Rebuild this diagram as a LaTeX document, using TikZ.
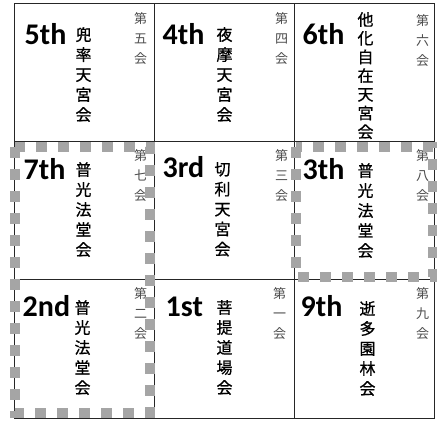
\documentclass[tikz,border=0pt]{standalone}
\usepackage{fontspec}
\setmainfont{Carlito}
\newfontfamily\cjk{Noto Sans CJK JP}
\newfontfamily\cjkheavy{Noto Sans CJK JP}[FakeBold=0.8]
\usetikzlibrary{positioning}
\definecolor{hallgray}{RGB}{165,165,165}
\tikzset{
  cell/.style  ={draw=black!85,line width=1pt,minimum width=140pt,
                 minimum height=138pt,inner sep=0pt,outer sep=0pt},
  ord/.style   ={font=\fontsize{30}{30}\selectfont\bfseries,inner sep=0pt,
                 anchor=base west},
  hall/.style  ={font=\cjkheavy\fontsize{16}{20}\selectfont,align=center,
                 inner sep=0pt,anchor=north},
  seq/.style   ={font=\cjk\fontsize{13}{20}\selectfont,align=center,
                 inner sep=0pt,anchor=north,text=black!70},
  frame/.style ={draw=hallgray,line width=10pt,dash pattern=on 11pt off 11pt},
}

\begin{document}
\begin{tikzpicture}[x=1pt,y=1pt]
  \useasboundingbox (0,0) rectangle (437,421);

  % grid of the nine assemblies
  \node[cell] (c5) at ( 84.5,348) {};
  \node[cell] (c4) at (224.5,348) {};
  \node[cell] (c6) at (364.5,348) {};
  \node[cell] (c7) at ( 84.5,210) {};
  \node[cell] (c3) at (224.5,210) {};
  \node[cell] (c8) at (364.5,210) {};
  \node[cell] (c2) at ( 84.5, 72) {};
  \node[cell] (c1) at (224.5, 72) {};
  \node[cell] (c9) at (364.5, 72) {};

  % top row
  \node[ord]  (o5) at ([shift={(10pt,-41pt)}]c5.north west) {5th};
  \node[hall] (h5) at ([shift={(69pt,-23pt)}]c5.north west) {兜\\率\\天\\宮\\会};
  \node[seq]  (s5) at ([shift={(-14pt,-8pt)}]c5.north east) {第\\五\\会};

  \node[ord]  (o4) at ([shift={(8pt,-41pt)}]c4.north west) {4th};
  \node[hall] (h4) at ([shift={(70pt,-23pt)}]c4.north west) {夜\\摩\\天\\宮\\会};
  \node[seq]  (s4) at ([shift={(-13pt,-8pt)}]c4.north east) {第\\四\\会};

  \node[ord]  (o6) at ([shift={(8pt,-41pt)}]c6.north west) {6th};
  \node[hall,font=\cjkheavy\fontsize{16}{18.7}\selectfont] (h6)
    at ([shift={(71pt,-8pt)}]c6.north west) {他\\化\\自\\在\\天\\宮\\会};
  \node[seq]  (s6) at ([shift={(-12pt,-10pt)}]c6.north east) {第\\六\\会};

  % middle row
  \node[ord]  (o7) at ([shift={(9pt,-38pt)}]c7.north west) {7th};
  \node[hall] (h7) at ([shift={(69pt,-20pt)}]c7.north west) {普\\光\\法\\堂\\会};
  \node[seq]  (s7) at ([shift={(-14pt,-7pt)}]c7.north east) {第\\七\\会};

  \node[ord]  (o3) at ([shift={(8pt,-36pt)}]c3.north west) {3rd};
  \node[hall] (h3) at ([shift={(68pt,-20pt)}]c3.north west) {切\\利\\天\\宮\\会};
  \node[seq]  (s3) at ([shift={(-13pt,-7pt)}]c3.north east) {第\\三\\会};

  \node[ord]  (o8) at ([shift={(8pt,-38pt)}]c8.north west) {3th};
  \node[hall] (h8) at ([shift={(71pt,-21pt)}]c8.north west) {普\\光\\法\\堂\\会};
  \node[seq]  (s8) at ([shift={(-12pt,-7pt)}]c8.north east) {第\\八\\会};

  % bottom row
  \node[ord]  (o2) at ([shift={(8pt,-37pt)}]c2.north west) {2nd};
  \node[hall] (h2) at ([shift={(68pt,-20pt)}]c2.north west) {普\\光\\法\\堂\\会};
  \node[seq]  (s2) at ([shift={(-14pt,-7pt)}]c2.north east) {第\\二\\会};

  \node[ord]  (o1) at ([shift={(11pt,-37pt)}]c1.north west) {1st};
  \node[hall] (h1) at ([shift={(70pt,-20pt)}]c1.north west) {菩\\提\\道\\場\\会};
  \node[seq]  (s1) at ([shift={(-15pt,-7pt)}]c1.north east) {第\\一\\会};

  \node[ord]  (o9) at ([shift={(6pt,-37pt)}]c9.north west) {9th};
  \node[hall] (h9) at ([shift={(73pt,-21pt)}]c9.north west) {逝\\多\\園\\林\\会};
  \node[seq]  (s9) at ([shift={(-12pt,-7pt)}]c9.north east) {第\\九\\会};

  % gray dashed frames round the halls of universal light
  \draw[frame] ([shift={(0.5pt,-5pt)}]c7.north west)
    rectangle ([shift={(-4.5pt,5pt)}]c2.south east);
  \draw[frame] ([shift={(1.5pt,-5pt)}]c8.north west)
    rectangle ([shift={(-1.5pt,3pt)}]c8.south east);
\end{tikzpicture}
\end{document}
